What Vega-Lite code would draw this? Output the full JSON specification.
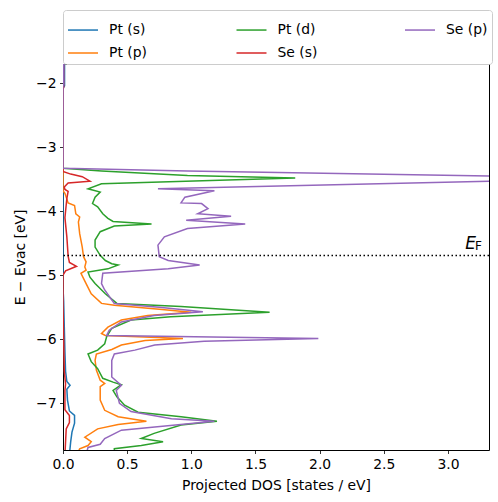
{
  "$schema": "https://vega.github.io/schema/vega-lite/v6.json",
  "width": 426,
  "height": 386,
  "autosize": {"type": "none"},
  "padding": {"left": 63, "top": 64, "right": 9, "bottom": 52},
  "background": "white",
  "config": {
    "font": "DejaVu Sans",
    "view": {"stroke": "black", "strokeWidth": 1},
    "axis": {
      "domain": false,
      "grid": false,
      "ticks": true,
      "tickSize": 3.5,
      "tickWidth": 0.8,
      "tickColor": "black",
      "labelColor": "black",
      "labelFont": "DejaVu Sans",
      "labelFontSize": 13.9,
      "labelPadding": 3.5,
      "labelFlush": false,
      "labelOverlap": false,
      "titleFont": "DejaVu Sans",
      "titleFontSize": 13.9,
      "titleFontWeight": "normal",
      "titleColor": "black"
    },
    "legend": {
      "labelFont": "DejaVu Sans",
      "labelFontSize": 13.9,
      "labelColor": "black"
    }
  },
  "layer": [
    {
      "data": {
        "values": [
          {"s": "Pt (s)", "E": -1.65, "d": 0.012},
          {"s": "Pt (s)", "E": -2.04, "d": 0.012},
          {"s": "Pt (s)", "E": -2.08, "d": 0.0},
          {"s": "Pt (s)", "E": -5.2, "d": 0.0},
          {"s": "Pt (s)", "E": -5.4, "d": 0.005},
          {"s": "Pt (s)", "E": -5.8, "d": 0.01},
          {"s": "Pt (s)", "E": -6.2, "d": 0.015},
          {"s": "Pt (s)", "E": -6.5, "d": 0.02},
          {"s": "Pt (s)", "E": -6.66, "d": 0.03},
          {"s": "Pt (s)", "E": -6.72, "d": 0.055},
          {"s": "Pt (s)", "E": -6.78, "d": 0.03},
          {"s": "Pt (s)", "E": -6.95, "d": 0.035},
          {"s": "Pt (s)", "E": -7.12, "d": 0.05},
          {"s": "Pt (s)", "E": -7.19, "d": 0.09},
          {"s": "Pt (s)", "E": -7.31, "d": 0.09},
          {"s": "Pt (s)", "E": -7.45, "d": 0.07},
          {"s": "Pt (s)", "E": -7.6, "d": 0.06},
          {"s": "Pt (s)", "E": -7.8, "d": 0.05},

          {"s": "Pt (p)", "E": -1.65, "d": 0.0},
          {"s": "Pt (p)", "E": -3.68, "d": 0.0},
          {"s": "Pt (p)", "E": -3.72, "d": 0.015},
          {"s": "Pt (p)", "E": -3.87, "d": 0.04},
          {"s": "Pt (p)", "E": -3.91, "d": 0.09},
          {"s": "Pt (p)", "E": -4.04, "d": 0.1},
          {"s": "Pt (p)", "E": -4.09, "d": 0.13},
          {"s": "Pt (p)", "E": -4.17, "d": 0.12},
          {"s": "Pt (p)", "E": -4.35, "d": 0.13},
          {"s": "Pt (p)", "E": -4.56, "d": 0.15},
          {"s": "Pt (p)", "E": -4.71, "d": 0.16},
          {"s": "Pt (p)", "E": -4.79, "d": 0.18},
          {"s": "Pt (p)", "E": -4.87, "d": 0.17},
          {"s": "Pt (p)", "E": -4.92, "d": 0.18},
          {"s": "Pt (p)", "E": -4.97, "d": 0.14},
          {"s": "Pt (p)", "E": -5.13, "d": 0.18},
          {"s": "Pt (p)", "E": -5.29, "d": 0.22},
          {"s": "Pt (p)", "E": -5.44, "d": 0.3},
          {"s": "Pt (p)", "E": -5.47, "d": 0.4},
          {"s": "Pt (p)", "E": -5.53, "d": 0.75},
          {"s": "Pt (p)", "E": -5.58, "d": 1.0},
          {"s": "Pt (p)", "E": -5.63, "d": 0.66},
          {"s": "Pt (p)", "E": -5.7, "d": 0.455},
          {"s": "Pt (p)", "E": -5.81, "d": 0.35},
          {"s": "Pt (p)", "E": -5.91, "d": 0.3},
          {"s": "Pt (p)", "E": -5.94, "d": 0.33},
          {"s": "Pt (p)", "E": -5.99, "d": 0.935},
          {"s": "Pt (p)", "E": -6.02, "d": 0.64},
          {"s": "Pt (p)", "E": -6.09, "d": 0.455},
          {"s": "Pt (p)", "E": -6.16, "d": 0.38},
          {"s": "Pt (p)", "E": -6.23, "d": 0.26},
          {"s": "Pt (p)", "E": -6.33, "d": 0.25},
          {"s": "Pt (p)", "E": -6.48, "d": 0.26},
          {"s": "Pt (p)", "E": -6.64, "d": 0.29},
          {"s": "Pt (p)", "E": -6.69, "d": 0.325},
          {"s": "Pt (p)", "E": -6.74, "d": 0.29},
          {"s": "Pt (p)", "E": -6.95, "d": 0.29},
          {"s": "Pt (p)", "E": -7.11, "d": 0.325},
          {"s": "Pt (p)", "E": -7.21, "d": 0.43},
          {"s": "Pt (p)", "E": -7.28, "d": 0.65},
          {"s": "Pt (p)", "E": -7.33, "d": 0.43},
          {"s": "Pt (p)", "E": -7.4, "d": 0.27},
          {"s": "Pt (p)", "E": -7.53, "d": 0.17},
          {"s": "Pt (p)", "E": -7.6, "d": 0.22},
          {"s": "Pt (p)", "E": -7.66, "d": 0.195},
          {"s": "Pt (p)", "E": -7.71, "d": 0.13},
          {"s": "Pt (p)", "E": -7.8, "d": 0.11},

          {"s": "Pt (d)", "E": -1.65, "d": 0.0},
          {"s": "Pt (d)", "E": -3.33, "d": 0.0},
          {"s": "Pt (d)", "E": -3.37, "d": 0.3},
          {"s": "Pt (d)", "E": -3.44, "d": 0.97},
          {"s": "Pt (d)", "E": -3.48, "d": 1.81},
          {"s": "Pt (d)", "E": -3.57, "d": 0.3},
          {"s": "Pt (d)", "E": -3.65, "d": 0.195},
          {"s": "Pt (d)", "E": -3.7, "d": 0.29},
          {"s": "Pt (d)", "E": -3.78, "d": 0.25},
          {"s": "Pt (d)", "E": -3.88, "d": 0.23},
          {"s": "Pt (d)", "E": -3.93, "d": 0.27},
          {"s": "Pt (d)", "E": -4.04, "d": 0.31},
          {"s": "Pt (d)", "E": -4.11, "d": 0.35},
          {"s": "Pt (d)", "E": -4.16, "d": 0.39},
          {"s": "Pt (d)", "E": -4.2, "d": 0.69},
          {"s": "Pt (d)", "E": -4.23, "d": 0.4},
          {"s": "Pt (d)", "E": -4.32, "d": 0.29},
          {"s": "Pt (d)", "E": -4.45, "d": 0.25},
          {"s": "Pt (d)", "E": -4.56, "d": 0.25},
          {"s": "Pt (d)", "E": -4.69, "d": 0.29},
          {"s": "Pt (d)", "E": -4.77, "d": 0.33},
          {"s": "Pt (d)", "E": -4.82, "d": 0.38},
          {"s": "Pt (d)", "E": -4.84, "d": 0.43},
          {"s": "Pt (d)", "E": -4.9, "d": 0.35},
          {"s": "Pt (d)", "E": -4.95, "d": 0.195},
          {"s": "Pt (d)", "E": -5.03, "d": 0.21},
          {"s": "Pt (d)", "E": -5.13, "d": 0.25},
          {"s": "Pt (d)", "E": -5.29, "d": 0.33},
          {"s": "Pt (d)", "E": -5.44, "d": 0.42},
          {"s": "Pt (d)", "E": -5.49, "d": 0.92},
          {"s": "Pt (d)", "E": -5.58, "d": 1.61},
          {"s": "Pt (d)", "E": -5.65, "d": 0.84},
          {"s": "Pt (d)", "E": -5.7, "d": 0.53},
          {"s": "Pt (d)", "E": -5.83, "d": 0.38},
          {"s": "Pt (d)", "E": -5.96, "d": 0.34},
          {"s": "Pt (d)", "E": -6.07, "d": 0.325},
          {"s": "Pt (d)", "E": -6.17, "d": 0.27},
          {"s": "Pt (d)", "E": -6.23, "d": 0.195},
          {"s": "Pt (d)", "E": -6.35, "d": 0.22},
          {"s": "Pt (d)", "E": -6.46, "d": 0.27},
          {"s": "Pt (d)", "E": -6.61, "d": 0.31},
          {"s": "Pt (d)", "E": -6.67, "d": 0.39},
          {"s": "Pt (d)", "E": -6.71, "d": 0.455},
          {"s": "Pt (d)", "E": -6.8, "d": 0.39},
          {"s": "Pt (d)", "E": -6.9, "d": 0.42},
          {"s": "Pt (d)", "E": -7.03, "d": 0.48},
          {"s": "Pt (d)", "E": -7.14, "d": 0.585},
          {"s": "Pt (d)", "E": -7.21, "d": 0.92},
          {"s": "Pt (d)", "E": -7.28, "d": 1.2},
          {"s": "Pt (d)", "E": -7.34, "d": 0.92},
          {"s": "Pt (d)", "E": -7.47, "d": 0.71},
          {"s": "Pt (d)", "E": -7.55, "d": 0.61},
          {"s": "Pt (d)", "E": -7.6, "d": 0.78},
          {"s": "Pt (d)", "E": -7.66, "d": 0.61},
          {"s": "Pt (d)", "E": -7.71, "d": 0.4},
          {"s": "Pt (d)", "E": -7.8, "d": 0.4},

          {"s": "Se (s)", "E": -1.65, "d": 0.005},
          {"s": "Se (s)", "E": -2.06, "d": 0.005},
          {"s": "Se (s)", "E": -2.1, "d": 0.0},
          {"s": "Se (s)", "E": -3.38, "d": 0.0},
          {"s": "Se (s)", "E": -3.42, "d": 0.06},
          {"s": "Se (s)", "E": -3.46, "d": 0.15},
          {"s": "Se (s)", "E": -3.53, "d": 0.21},
          {"s": "Se (s)", "E": -3.56, "d": 0.04},
          {"s": "Se (s)", "E": -3.62, "d": 0.01},
          {"s": "Se (s)", "E": -3.66, "d": 0.015},
          {"s": "Se (s)", "E": -3.69, "d": 0.04},
          {"s": "Se (s)", "E": -3.8, "d": 0.03},
          {"s": "Se (s)", "E": -4.1, "d": 0.015},
          {"s": "Se (s)", "E": -4.4, "d": 0.03},
          {"s": "Se (s)", "E": -4.7, "d": 0.04},
          {"s": "Se (s)", "E": -4.8, "d": 0.05},
          {"s": "Se (s)", "E": -4.86, "d": 0.105},
          {"s": "Se (s)", "E": -4.93, "d": 0.02},
          {"s": "Se (s)", "E": -5.0, "d": 0.0},
          {"s": "Se (s)", "E": -5.5, "d": 0.0},
          {"s": "Se (s)", "E": -6.0, "d": 0.005},
          {"s": "Se (s)", "E": -6.5, "d": 0.01},
          {"s": "Se (s)", "E": -6.7, "d": 0.02},
          {"s": "Se (s)", "E": -6.8, "d": 0.015},
          {"s": "Se (s)", "E": -7.1, "d": 0.015},
          {"s": "Se (s)", "E": -7.19, "d": 0.05},
          {"s": "Se (s)", "E": -7.3, "d": 0.05},
          {"s": "Se (s)", "E": -7.4, "d": 0.025},
          {"s": "Se (s)", "E": -7.8, "d": 0.015},

          {"s": "Se (p)", "E": -1.65, "d": 0.005},
          {"s": "Se (p)", "E": -2.02, "d": 0.005},
          {"s": "Se (p)", "E": -2.05, "d": 0.0},
          {"s": "Se (p)", "E": -3.33, "d": 0.0},
          {"s": "Se (p)", "E": -3.37, "d": 0.97},
          {"s": "Se (p)", "E": -3.45, "d": 3.32},
          {"s": "Se (p)", "E": -3.49, "d": 4.3},
          {"s": "Se (p)", "E": -3.53, "d": 3.32},
          {"s": "Se (p)", "E": -3.65, "d": 0.74},
          {"s": "Se (p)", "E": -3.68, "d": 1.18},
          {"s": "Se (p)", "E": -3.78, "d": 0.95},
          {"s": "Se (p)", "E": -3.87, "d": 0.92},
          {"s": "Se (p)", "E": -3.88, "d": 1.08},
          {"s": "Se (p)", "E": -3.96, "d": 1.13},
          {"s": "Se (p)", "E": -4.04, "d": 1.05},
          {"s": "Se (p)", "E": -4.08, "d": 1.31},
          {"s": "Se (p)", "E": -4.14, "d": 0.96},
          {"s": "Se (p)", "E": -4.2, "d": 1.42},
          {"s": "Se (p)", "E": -4.27, "d": 0.97},
          {"s": "Se (p)", "E": -4.4, "d": 0.79},
          {"s": "Se (p)", "E": -4.53, "d": 0.74},
          {"s": "Se (p)", "E": -4.71, "d": 0.75},
          {"s": "Se (p)", "E": -4.77, "d": 0.82},
          {"s": "Se (p)", "E": -4.84, "d": 1.065},
          {"s": "Se (p)", "E": -4.9, "d": 0.82},
          {"s": "Se (p)", "E": -4.97, "d": 0.31},
          {"s": "Se (p)", "E": -5.13, "d": 0.3},
          {"s": "Se (p)", "E": -5.23, "d": 0.325},
          {"s": "Se (p)", "E": -5.44, "d": 0.4},
          {"s": "Se (p)", "E": -5.5, "d": 0.75},
          {"s": "Se (p)", "E": -5.57, "d": 1.09},
          {"s": "Se (p)", "E": -5.63, "d": 0.71},
          {"s": "Se (p)", "E": -5.73, "d": 0.455},
          {"s": "Se (p)", "E": -5.86, "d": 0.36},
          {"s": "Se (p)", "E": -5.94, "d": 0.34},
          {"s": "Se (p)", "E": -5.99, "d": 1.99},
          {"s": "Se (p)", "E": -6.03, "d": 1.1},
          {"s": "Se (p)", "E": -6.09, "d": 0.715},
          {"s": "Se (p)", "E": -6.17, "d": 0.56},
          {"s": "Se (p)", "E": -6.23, "d": 0.4},
          {"s": "Se (p)", "E": -6.33, "d": 0.38},
          {"s": "Se (p)", "E": -6.59, "d": 0.38},
          {"s": "Se (p)", "E": -6.72, "d": 0.455},
          {"s": "Se (p)", "E": -6.8, "d": 0.415},
          {"s": "Se (p)", "E": -7.0, "d": 0.44},
          {"s": "Se (p)", "E": -7.13, "d": 0.53},
          {"s": "Se (p)", "E": -7.24, "d": 0.845},
          {"s": "Se (p)", "E": -7.28, "d": 1.18},
          {"s": "Se (p)", "E": -7.37, "d": 0.715},
          {"s": "Se (p)", "E": -7.42, "d": 0.455},
          {"s": "Se (p)", "E": -7.55, "d": 0.325},
          {"s": "Se (p)", "E": -7.64, "d": 0.29},
          {"s": "Se (p)", "E": -7.69, "d": 0.195},
          {"s": "Se (p)", "E": -7.8, "d": 0.18}
        ]
      },
      "mark": {"type": "line", "clip": true, "strokeWidth": 1.5, "interpolate": "linear"},
      "encoding": {
        "x": {
          "field": "d", "type": "quantitative",
          "scale": {"domain": [0, 3.32], "nice": false, "zero": false},
          "axis": {"values": [0, 0.5, 1, 1.5, 2, 2.5, 3], "format": ".1f", "title": "Projected DOS [states / eV]", "titlePadding": 8}
        },
        "y": {
          "field": "E", "type": "quantitative",
          "scale": {"domain": [-7.73, -1.7], "nice": false, "zero": false},
          "axis": {"values": [-7, -6, -5, -4, -3, -2], "format": "d", "title": "E − Evac [eV]", "titlePadding": 8}
        },
        "order": {"field": "E", "type": "quantitative"},
        "color": {
          "field": "s", "type": "nominal",
          "scale": {
            "domain": ["Pt (s)", "Pt (p)", "Pt (d)", "Se (s)", "Se (p)"],
            "range": ["#1f77b4", "#ff7f0e", "#2ca02c", "#d62728", "#9467bd"]
          },
          "legend": {
            "title": null,
            "orient": "none",
            "legendX": 0,
            "legendY": -54,
            "columns": 3,
            "columnPadding": 82.5,
            "rowPadding": -9,
            "gridAlign": "all",
            "symbolType": "stroke",
            "symbolSize": 900,
            "symbolStrokeWidth": 1.5,
            "labelOffset": 10,
            "padding": 4,
            "strokeColor": "#cccccc",
            "cornerRadius": 3
          }
        }
      }
    },
    {
      "data": {"values": [{"ef": -4.69}]},
      "mark": {"type": "rule", "color": "black", "strokeWidth": 1.5, "strokeDash": [1.5, 2.5]},
      "encoding": {"y": {"field": "ef", "type": "quantitative"}}
    },
    {
      "data": {"values": [{"ef": -4.69, "xr": 3.32}]},
      "mark": {"type": "text", "text": "E", "fontStyle": "italic", "fontSize": 17, "align": "right", "baseline": "alphabetic", "dx": -13, "dy": -6, "color": "black"},
      "encoding": {
        "x": {"field": "xr", "type": "quantitative"},
        "y": {"field": "ef", "type": "quantitative"}
      }
    },
    {
      "data": {"values": [{"ef": -4.69, "xr": 3.32}]},
      "mark": {"type": "text", "text": "F", "fontSize": 12, "align": "right", "baseline": "alphabetic", "dx": -7, "dy": -5, "color": "black"},
      "encoding": {
        "x": {"field": "xr", "type": "quantitative"},
        "y": {"field": "ef", "type": "quantitative"}
      }
    }
  ]
}
